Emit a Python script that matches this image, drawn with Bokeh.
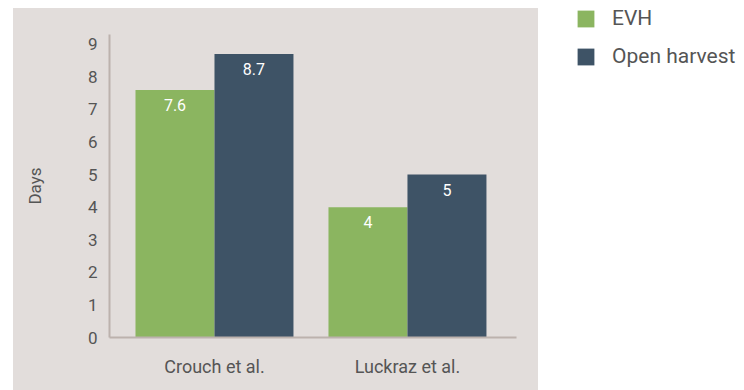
from bokeh.plotting import figure
from bokeh.models import Range1d, FixedTicker, ColumnDataSource, Legend, LegendItem, Spacer
from bokeh.layouts import row, column
from bokeh.transform import dodge
from bokeh.core.properties import value
from bokeh.embed import file_html
from bokeh.resources import INLINE

studies = ["Crouch et al.", "Luckraz et al."]
evh = [7.6, 4]
open_harvest = [8.7, 5]
y_ticks = [0, 1, 2, 3, 4, 5, 6, 7, 8, 9]

GREEN = "#8bb560"
SLATE = "#3e5366"
PANEL = "#e2dddb"
AXIS = "#bcb2ad"
TEXT = "#555555"
FONT = "Roboto"

idx = list(range(len(studies)))
src = ColumnDataSource(dict(x=idx, evh=evh, oh=open_harvest,
                            evh_lbl=[f"{v:g}" for v in evh],
                            oh_lbl=[f"{v:g}" for v in open_harvest]))

p = figure(width=525, height=382, output_backend="svg", toolbar_location=None,
           x_range=Range1d(-0.544, 1.565), y_range=Range1d(0, 9.3),
           min_border_left=96, min_border_right=22, min_border_top=26, min_border_bottom=53)
p.background_fill_alpha = 0
p.border_fill_alpha = 0
p.styles = {"background-color": PANEL}
p.outline_line_color = None
p.xgrid.visible = False
p.ygrid.visible = False

bw = 0.4093
off = bw / 2
r1 = p.vbar(x=dodge("x", -off, range=p.x_range), top="evh", width=bw, source=src,
            fill_color=GREEN, line_color=None)
r2 = p.vbar(x=dodge("x", off, range=p.x_range), top="oh", width=bw, source=src,
            fill_color=SLATE, line_color=None)
p.text(x=dodge("x", -off, range=p.x_range), y="evh", text="evh_lbl", source=src,
       text_color="white", text_font=value(FONT), text_font_size="16px",
       text_align="center", text_baseline="middle", y_offset=15)
p.text(x=dodge("x", off, range=p.x_range), y="oh", text="oh_lbl", source=src,
       text_color="white", text_font=value(FONT), text_font_size="16px",
       text_align="center", text_baseline="middle", y_offset=15)

for ax in (p.xaxis[0], p.yaxis[0]):
    ax.axis_line_color = AXIS
    ax.axis_line_width = 2
    ax.major_tick_line_color = None
    ax.minor_tick_line_color = None
    ax.major_tick_out = 0
    ax.major_tick_in = 0
    ax.major_label_text_color = TEXT
    ax.major_label_text_font = FONT
    ax.major_label_text_font_size = "17px"

p.xaxis.ticker = FixedTicker(ticks=idx)
p.xaxis.major_label_overrides = {i: s for i, s in zip(idx, studies)}
p.xaxis.major_label_standoff = 18
p.xaxis.major_label_text_font_size = "18px"

p.yaxis.ticker = FixedTicker(ticks=y_ticks)
p.yaxis.major_label_standoff = 12
p.yaxis.axis_label = "Days"
p.yaxis.axis_label_text_font = FONT
p.yaxis.axis_label_text_font_size = "17px"
p.yaxis.axis_label_text_font_style = "normal"
p.yaxis.axis_label_text_color = TEXT
p.yaxis.axis_label_standoff = 40

# Legend figure (white area on the right)
lf = figure(width=206, height=390, output_backend="svg", toolbar_location=None,
            x_range=Range1d(0, 1), y_range=Range1d(0, 1),
            min_border_left=37, min_border_top=6, min_border_right=0, min_border_bottom=0)
lf.axis.visible = False
lf.grid.visible = False
lf.outline_line_color = None
lf.background_fill_color = "white"
lf.border_fill_color = "white"
g1 = lf.vbar(x=[5], top=[1], width=0.1, fill_color=GREEN, line_color=None)
g2 = lf.vbar(x=[5], top=[1], width=0.1, fill_color=SLATE, line_color=None)
legend = Legend(items=[LegendItem(label="EVH", renderers=[g1]),
                       LegendItem(label="Open harvest", renderers=[g2])],
                location="top_left", margin=0, padding=0, spacing=14,
                glyph_width=21, glyph_height=21, label_standoff=16,
                label_text_font=FONT, label_text_font_size="21px",
                label_text_color=TEXT, border_line_color=None,
                background_fill_alpha=0)
lf.add_layout(legend, "center")

layout = row(column(Spacer(height=8), row(Spacer(width=13), p)), lf)
open("out.html", "w").write(file_html(layout, INLINE))
